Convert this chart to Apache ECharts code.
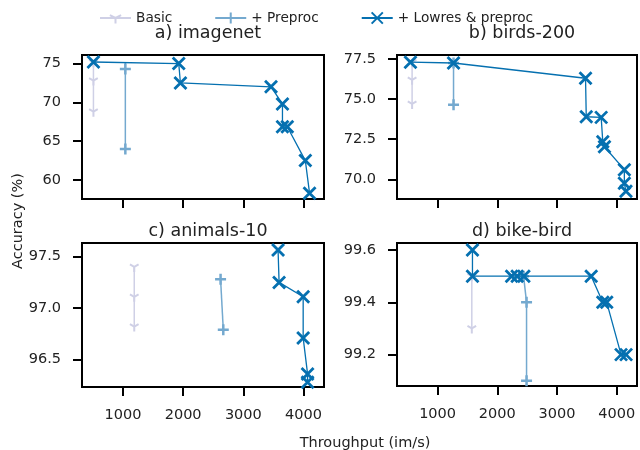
<!DOCTYPE html>
<html>
<head>
<meta charset="utf-8">
<script src="https://cdn.jsdelivr.net/npm/echarts@6/dist/echarts.min.js"></script>
<style>html,body{margin:0;padding:0;background:#fff;}#c{width:640px;height:450px;}</style>
</head>
<body>
<div id="c"></div>
<script>
// ---- data ----
const seriesNames = ['Basic', '+ Preproc', '+ Lowres & preproc'];
const panelTitles = ['a) imagenet', 'b) birds-200', 'c) animals-10', 'd) bike-bird'];
const xTicks = [1000, 2000, 3000, 4000];

const imagenetBasic = [[510, 75.15], [510, 72.8], [510, 68.8]];
const imagenetPre = [[1040, 75.1], [1040, 74.3], [1040, 64.0]];
const imagenetPreNoMarker = [0];
const imagenetLow = [[510, 75.2], [1927, 75.0], [1955, 72.5], [3460, 72.0], [3650, 69.8],
  [3650, 66.85], [3730, 66.85], [4030, 62.5], [4100, 58.3]];

const birdsBasic = [[573, 77.3], [573, 76.2], [573, 74.7]];
const birdsPre = [[1267, 77.25], [1267, 74.65]];
const birdsLow = [[545, 77.3], [1267, 77.25], [3478, 76.3], [3490, 73.9], [3740, 73.86],
  [3767, 72.34], [3795, 72.03], [4128, 70.6], [4128, 69.75], [4155, 69.25]];

const animalsBasic = [[1188, 97.4], [1188, 97.11], [1188, 96.82]];
const animalsPre = [[2622, 97.28], [2667, 96.79]];
const animalsLow = [[3577, 97.565], [3594, 97.25], [3994, 97.11], [3994, 96.71],
  [4067, 96.36], [4067, 96.28]];

const bikeBasic = [[1573, 99.5], [1573, 99.3]];
const bikePre = [[2440, 99.5], [2490, 99.4], [2490, 99.1]];
const bikeLow = [[1584, 99.6], [1584, 99.5], [2240, 99.5], [2333, 99.5], [2445, 99.5],
  [3573, 99.5], [3767, 99.4], [3833, 99.4], [4073, 99.2], [4157, 99.2]];

const yTicks = [[60, 65, 70, 75], [70, 72.5, 75, 77.5], [96.5, 97.0, 97.5], [99.2, 99.4, 99.6]];
const yRanges = [[57.55, 76.1], [68.77, 77.75], [96.233, 97.633], [99.08, 99.627]];
const yDecimals = [0, 1, 1, 1];
const xRange = [320, 4340];

// ---- layout / style ----
const grids = [
  {left: 82, top: 55, width: 242, height: 144},
  {left: 397, top: 55, width: 240, height: 144},
  {left: 82, top: 243, width: 242, height: 144},
  {left: 397, top: 243, width: 240, height: 143}
];
const titleTops = [19, 19, 217, 217];
const colors = ['#cfd0e6', '#74a9cf', '#0570b0'];
const symbols = [
  'path://M0,0L0,10M0,0L-8.66,-5M0,0L8.66,-5M0,-10L0,-10',
  'path://M0,5L10,5M5,0L5,10',
  'path://M0,0L10,10M10,0L0,10'
];
const symSizes = [10, 11, 12];
const symWidths = [2, 2.5, 2.8];
const lineWidths = [1.5, 1.5, 1.3];
const FONT = '"DejaVu Sans"';

const panelData = [
  [imagenetBasic, imagenetPre, imagenetLow],
  [birdsBasic, birdsPre, birdsLow],
  [animalsBasic, animalsPre, animalsLow],
  [bikeBasic, bikePre, bikeLow]
];
const noMarker = {'0-1': imagenetPreNoMarker};

const xAxes = [], yAxes = [], series = [], titles = [];
grids.forEach((g, i) => {
  g.show = true; g.borderColor = '#000'; g.borderWidth = 2; g.containLabel = false;
  xAxes.push({
    type: 'value', gridIndex: i, min: xRange[0], max: xRange[1],
    axisLine: {show: false},
    splitLine: {show: false},
    axisTick: {show: true, length: 9, lineStyle: {color: '#000', width: 2}, customValues: xTicks},
    axisLabel: {show: i >= 2, customValues: xTicks, fontSize: 14.5, fontFamily: FONT, color: '#222', margin: 21,
      formatter: v => String(Math.round(v))}
  });
  yAxes.push({
    type: 'value', gridIndex: i, min: yRanges[i][0], max: yRanges[i][1],
    axisLine: {show: false},
    splitLine: {show: false},
    axisTick: {show: true, length: 9, lineStyle: {color: '#000', width: 2}, customValues: yTicks[i]},
    axisLabel: {show: true, customValues: yTicks[i], fontSize: 14.5, fontFamily: FONT, color: '#222', margin: 21,
      formatter: v => Number(v).toFixed(yDecimals[i])}
  });
  titles.push({
    text: panelTitles[i], left: g.left + g.width / 2, textAlign: 'center', top: titleTops[i],
    textStyle: {fontSize: 17.5, fontWeight: 'normal', fontFamily: FONT, color: '#222'}
  });
  panelData[i].forEach((d, s) => {
    const hide = noMarker[i + '-' + s] || [];
    series.push({
      type: 'line', name: seriesNames[s], xAxisIndex: i, yAxisIndex: i,
      data: d.map((p, k) => hide.includes(k) ? {value: p, symbol: 'none'} : p),
      symbol: symbols[s], symbolSize: symSizes[s], symbolKeepAspect: true,
      showAllSymbol: true, clip: false, z: 2 + s,
      lineStyle: {color: colors[s], width: lineWidths[s]},
      itemStyle: {color: colors[s], borderColor: colors[s], borderWidth: symWidths[s]},
      emphasis: {disabled: true}, animation: false
    });
  });
});

titles.push({
  text: 'Throughput (im/s)', left: 360, textAlign: 'center', top: 431,
  textStyle: {fontSize: 14.5, fontWeight: 'normal', fontFamily: FONT, color: '#222'}
});

const chart = echarts.init(document.getElementById('c'), null, {renderer: 'canvas'});
chart.setOption({
  animation: false,
  backgroundColor: '#fff',
  title: titles,
  legend: {
    data: seriesNames, left: 99, top: 11, itemGap: 42, itemWidth: 31, itemHeight: 14, padding: 0,
    textStyle: {fontSize: 13.7, fontFamily: FONT, color: '#222'}
  },
  grid: grids,
  xAxis: xAxes,
  yAxis: yAxes,
  series: series,
  graphic: [{
    type: 'text', rotation: Math.PI / 2,
    style: {text: 'Accuracy (%)', fontSize: 14.5, fontFamily: FONT, fill: '#222', textAlign: 'center', textVerticalAlign: 'middle'},
    x: 18, y: 221
  }]
});
</script>
</body>
</html>
